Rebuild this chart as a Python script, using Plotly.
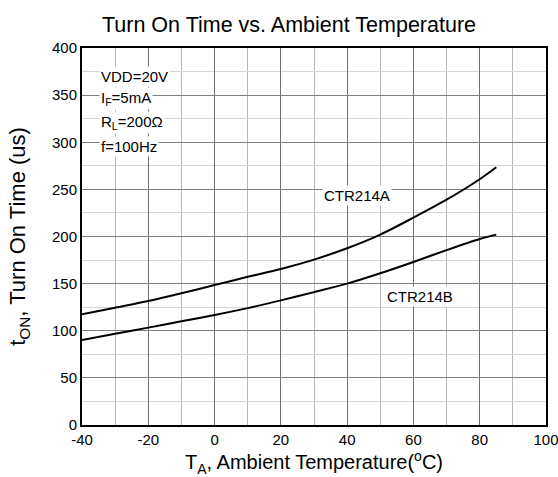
import plotly.graph_objects as go

temp_a = [-40, -30, -20, -10, 0, 10, 20, 30, 40, 50, 60, 70, 80, 85]
ton_a = [117.5, 124.5, 131.5, 139.7, 148.5, 157.2, 165.5, 175.5, 187.5, 202, 220, 239, 260.7, 273.4]
temp_b = [-40, -30, -20, -10, 0, 10, 20, 30, 40, 50, 60, 70, 80, 85]
ton_b = [90.2, 96.9, 103.3, 110, 116.7, 124, 132.2, 141, 150, 161, 173, 185.5, 197.3, 202]

x_ticks = [-40, -20, 0, 20, 40, 60, 80, 100]
y_ticks = [0, 50, 100, 150, 200, 250, 300, 350, 400]

FONT = "Liberation Sans, Arial, sans-serif"

fig = go.Figure()
fig.add_trace(go.Scatter(x=temp_a, y=ton_a, mode="lines",
                         line=dict(color="black", width=2, shape="spline", smoothing=0.8), showlegend=False))
fig.add_trace(go.Scatter(x=temp_b, y=ton_b, mode="lines",
                         line=dict(color="black", width=2, shape="spline", smoothing=0.8), showlegend=False))

fig.add_annotation(x=43, y=243, text="CTR214A", showarrow=False, bgcolor="white",
                   font=dict(size=15, color="black", family=FONT))
fig.add_annotation(x=62, y=136, text="CTR214B", showarrow=False, bgcolor="white",
                   font=dict(size=15, color="black", family=FONT))

cond_lines = ["VDD=20V", "I<sub>F</sub>=5mA", "R<sub>L</sub>=200Ω", "f=100Hz"]
cond_y = [370, 346, 321, 296]
for t, yy in zip(cond_lines, cond_y):
    fig.add_annotation(x=-35, y=yy, text=t, showarrow=False, xanchor="left", bgcolor="white",
                       font=dict(size=15, color="black", family=FONT))

fig.update_layout(
    width=558, height=477,
    margin=dict(l=82, r=12, t=48, b=52, autoexpand=False),
    paper_bgcolor="white", plot_bgcolor="white",
    font=dict(family=FONT, color="black"),
    title=dict(text="Turn On Time vs. Ambient Temperature", xref="paper", x=(289 - 82) / 464, xanchor="center",
               yref="container", y=1 - 24 / 477, yanchor="middle",
               font=dict(size=21.5, family=FONT, color="black")),
)
fig.update_xaxes(
    range=[-40, 100], tickvals=x_ticks, ticktext=[str(v) for v in x_ticks],
    showgrid=True, gridcolor="#707070", gridwidth=1,
    minor=dict(dtick=10, showgrid=True, gridcolor="#b8b8b8", gridwidth=1),
    showline=True, linecolor="black", linewidth=2, mirror=True, ticks="",
    tickfont=dict(size=15, family=FONT, color="black"), ticklabeloverflow="allow",
    title=dict(text="T<sub>A</sub>, Ambient Temperature(<sup>o</sup>C)", standoff=4,
               font=dict(size=20, family=FONT, color="black")),
    zeroline=False, automargin=False,
)
fig.update_yaxes(
    range=[0, 400], tickvals=y_ticks, ticktext=[str(v) for v in y_ticks],
    showgrid=True, gridcolor="#808080", gridwidth=1,
    minor=dict(dtick=25, showgrid=True, gridcolor="#d4d4d4", gridwidth=1),
    showline=True, linecolor="black", linewidth=2, mirror=True, ticks="",
    tickfont=dict(size=15, family=FONT, color="black"), ticklabeloverflow="allow",
    title=dict(text="t<sub>ON</sub>, Turn On Time (us)", standoff=20,
               font=dict(size=22, family=FONT, color="black")),
    zeroline=False, automargin=False,
)

fig.write_html("out.html", config={"displayModeBar": False},
               post_script="document.body.style.margin='0';document.body.style.padding='0';")
